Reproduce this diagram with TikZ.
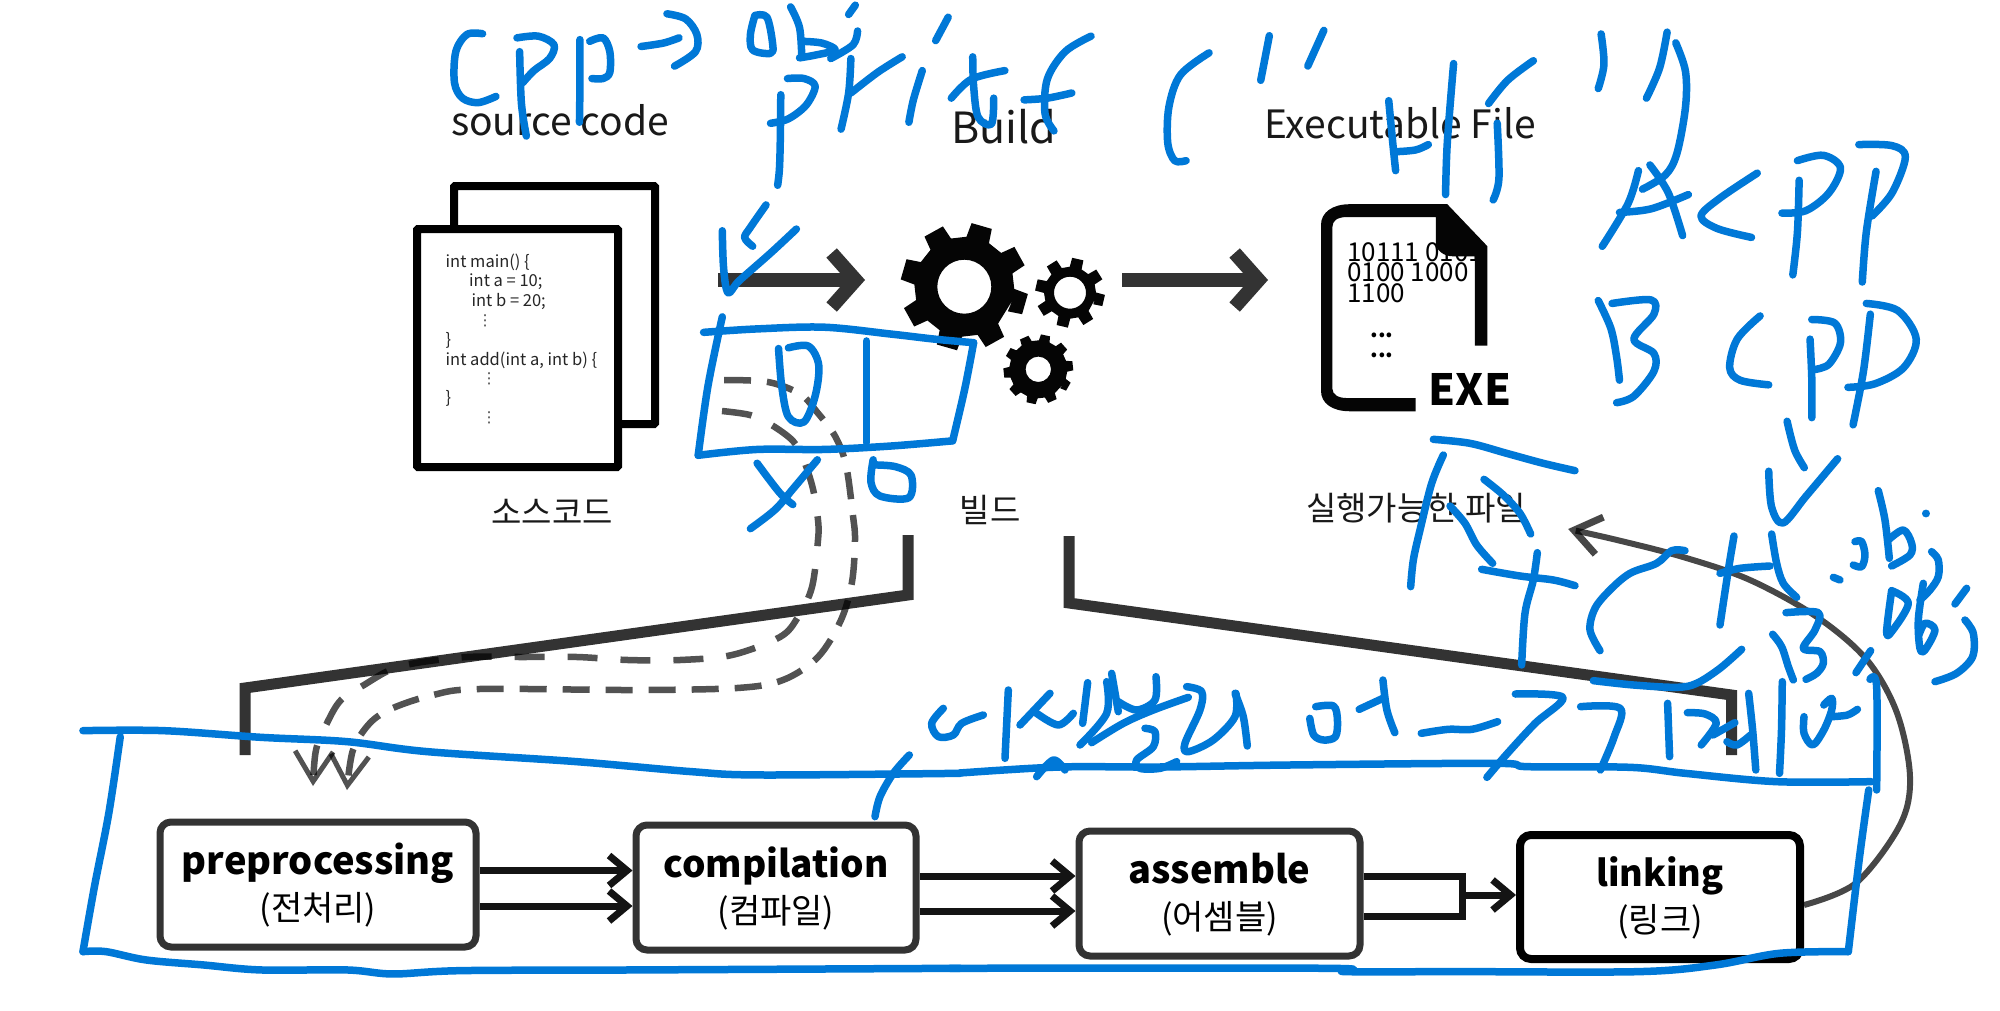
\documentclass[tikz,border=0pt]{standalone}
\usepackage{fontspec}
\usetikzlibrary{arrows.meta,calc}
\setmainfont{Noto Sans CJK KR}
\newfontfamily\dvfont{DejaVu Sans}
\definecolor{inkblue}{HTML}{0078D7}
\definecolor{dk}{HTML}{333333}
\tikzset{
  ink/.style={draw=inkblue,line width=7.5pt,line cap=round,line join=round},
  z1/.style={shift={(400pt,0pt)},x=.4464pt,y=-.3444pt},
  z2/.style={shift={(1100pt,0pt)},x=.574pt,y=-.357pt},
  z3/.style={shift={(60pt,-520pt)},x=.574pt,y=-.3333pt},
  z4/.style={shift={(950pt,-560pt)},x=.638pt,y=-.3333pt},
  z5/.style={shift={(1550pt,-460pt)},x=.3333pt,y=-.3333pt},
  z6/.style={shift={(860pt,-660pt)},x=.3333pt,y=-.3333pt},
  z7/.style={shift={(1380pt,-420pt)},x=.3333pt,y=-.3333pt},
  z8/.style={shift={(1290pt,-680pt)},x=.3954pt,y=-.3333pt},
  procbox/.style={draw=dk,line width=7pt,rounded corners=11pt,fill=white,align=center,inner sep=0pt,minimum height=125pt},
  doc/.style={draw=black,line width=8pt,rounded corners=1pt,fill=white,minimum width=201pt,minimum height=238pt,inner sep=0pt},
  codeline/.style={anchor=west,inner sep=0pt,font=\fontsize{16.5}{18}\selectfont,text=black!85},
  codedots/.style={inner sep=0pt,font=\dvfont\fontsize{15}{15}\selectfont,text=black!75},
  toplabel/.style={inner sep=0pt,font=\fontsize{39}{42}\selectfont,text=black!90},
  kolabel/.style={inner sep=0pt,font=\fontsize{33}{36}\selectfont,text=black!90},
  bigarrow/.style={draw=dk,line width=14pt,-{Straight Barb[length=24pt,width=54pt,line width=14pt]}},
  flowarrow/.style={draw=black!92,line width=7pt,-{Straight Barb[length=18pt,width=30pt,line width=7pt]}},
  bracket/.style={draw=dk,line width=11pt,miter limit=10},
  dashcurve/.style={draw=black,opacity=.68,line width=6.5pt,-{Straight Barb[length=30pt,width=38pt,line width=5pt]}},
  bintext/.style={anchor=north west,align=left,inner sep=0pt,font=\fontsize{26}{20.5}\selectfont,text=black},
}
\newcommand\boxlabel[3]{{\bfseries\fontsize{#3}{40}\selectfont\rule[-11pt]{0pt}{48pt}#1}\\{\fontsize{34}{40}\selectfont\rule[-12pt]{0pt}{46pt}#2}}
\newcommand\inkline[1]{\draw[ink] plot[smooth,tension=.55] coordinates {#1};}
\newcommand\gearshape[7]{%
  \begin{scope}[shift={(#1,#2)}]
    \pgfmathsetmacro\gstep{360/#3}
    \fill[black!98,even odd rule] (#7:#5)
      \foreach \k [evaluate=\k as \a using #7+\k*\gstep] in {1,...,#3} {
        -- ({\a-.3*\gstep}:#5) -- ({\a-.21*\gstep}:#4) -- ({\a+.21*\gstep}:#4) -- ({\a+.3*\gstep}:#5)
      } -- cycle (0,0) circle[radius=#6];
  \end{scope}}
\begin{document}
\begin{tikzpicture}[x=1pt,y=-1pt]
\useasboundingbox (0,0) rectangle (2000,1010);
\fill[white] (0,0) rectangle (2000,1010);

% top labels
\node[toplabel] (srcen) at (560,120) {source code};
\node[toplabel,font=\fontsize{43}{46}\selectfont] (builden) at (1004,127) {Build};
\node[toplabel] (exeen) at (1400,123) {Executable File};
\node[kolabel] (srcko) at (552,512) {소스코드};
\node[kolabel] (buildko) at (990,510) {빌드};
\node[kolabel] (exeko) at (1416,508) {실행가능한 파일};

% source documents
\node[doc] (back) at (554.5,305) {};
\node[doc] (front) at (517.5,348) {};
\node[codeline] (c1) at (445.5,262.4) {int main() \{};
\node[codeline] (c2) at (469,281.7) {int a = 10;};
\node[codeline] (c3) at (471.4,301.4) {int b = 20;};
\node[codedots] (c4) at (485,321) {⋮};
\node[codeline] (c5) at (445.5,340) {\}};
\node[codeline] (c6) at (445.5,360) {int add(int a, int b) \{};
\node[codedots] (c7) at (489,379) {⋮};
\node[codeline] (c8) at (445.5,398) {\}};
\node[codedots] (c9) at (489,418) {⋮};

% gears
\gearshape{964.3}{286.7}{8}{64}{50}{27}{16}
\gearshape{1070}{292.7}{8}{35}{26}{16}{13}
\gearshape{1038.3}{369.3}{10}{35}{29}{12.7}{30}

% executable file icon
\node[bintext] (b1) at (1347,242) {10111 0101\\0100 1000\\1100};
\node[inner sep=0pt,font=\bfseries\fontsize{22}{22}\selectfont] (b4) at (1382,335) {...};
\node[inner sep=0pt,font=\bfseries\fontsize{22}{22}\selectfont] (b5) at (1382,355) {...};
\begin{scope}[z2]
\fill[black!98] (550,1152) -- (435,1152) .. controls (405,1152) and (385,1130) .. (385,1095) -- (385,630) .. controls (385,595) and (405,572) .. (435,572) -- (605,572) -- (675,690) -- (675,968) -- (653,968) -- (653,718) -- (615,718) .. controls (598,718) and (585,700) .. (585,680) -- (585,608) -- (430,608) .. controls (412,608) and (405,620) .. (405,635) -- (405,1090) .. controls (405,1105) and (415,1115) .. (430,1115) -- (550,1115) -- cycle;
\end{scope}
\node[inner sep=0pt,font=\bfseries\fontsize{43}{45}\selectfont] (exetxt) at (1470,389) {EXE};

% big arrows
\coordinate (a1s) at (718,280);
\coordinate (a1e) at (865,280);
\coordinate (a2s) at (1122,280);
\coordinate (a2e) at (1268,280);
\draw[bigarrow] (a1s) -- (a1e);
\draw[bigarrow] (a2s) -- (a2e);

% brackets
\draw[bracket] (908,535) -- (908,595) -- (245,688) -- (245,755);
\draw[bracket] (1069,536) -- (1069,603) -- (1731.5,695) -- (1731.5,755);

% process boxes
\node[procbox,minimum width=316pt] (pre) at (318,884.5) {\boxlabel{preprocessing}{(전처리)}{38}};
\node[procbox,minimum width=280pt] (comp) at (776,887.5) {\boxlabel{compilation}{(컴파일)}{37}};
\node[procbox,minimum width=281pt] (asm) at (1219.5,893.5) {\boxlabel{assemble}{(어셈블)}{38}};
\node[procbox,minimum width=280pt,minimum height=124pt,draw=black,line width=8pt] (link) at (1660,897) {\boxlabel{linking}{(링크)}{36}};

% flow arrows
\coordinate (p1) at ([yshift=14pt]pre.east);
\coordinate (p2) at ([yshift=-21.5pt]pre.east);
\draw[flowarrow] (p1) -- (p1 -| comp.west);
\draw[flowarrow] (p2) -- (p2 -| comp.west);
\coordinate (q1) at ([yshift=11.5pt]comp.east);
\coordinate (q2) at ([yshift=-23.5pt]comp.east);
\draw[flowarrow] (q1) -- (q1 -| asm.west);
\draw[flowarrow] (q2) -- (q2 -| asm.west);
\coordinate (r1) at ([yshift=17pt]asm.east);
\coordinate (r2) at ([yshift=-23pt]asm.east);
\coordinate (rm) at (1462,895);
\draw[draw=black!92,line width=7pt] (r1) -- (r1 -| rm) -- (r2 -| rm) -- (r2);
\draw[flowarrow] (rm) -- (rm -| link.west);

% return curve
\draw[draw=black,opacity=.72,line width=6pt,-{Straight Barb[length=26pt,width=38pt,line width=7pt]}]
  plot[smooth,tension=.55] coordinates {($(link.east)+(0,8)$) (1856,883) (1900,825) (1910,777) (1897,713) (1867,660) (1817,617) (1750,580) (1683,557) (1617,540) ($(exeko.east)+(42,21)$)};

% dashed curves
\draw[dashcurve,dash pattern=on 27pt off 16pt] plot[smooth,tension=.55] coordinates {(724,380) (768,382) (800,394) (817,412) (835,436) (846,465) (853,516) (855,540) (852,582) (841,620) (818,657) (783,680) (737,688) (634,690) (479,689) (433,695) (393,708) (370,723) (353,750) (347,790)};
\draw[dashcurve,dash pattern=on 30pt off 23pt] plot[smooth,tension=.55] coordinates {(722,411) (750,415) (770,424) (793,441) (804,461) (813,489) (818,520) (818,540) (812,587) (798,617) (780,637) (732,655) (680,660) (628,660) (577,657) (522,657) (467,657) (416,663) (390,670) (364,685) (341,700) (327,723) (316,750) (313,786)};

% handwriting
\begin{scope}[z1]
\inkline{(185,98) (150,100) (125,150) (122,240) (140,285) (175,298) (215,280)}
\inkline{(262,110) (310,105) (345,130) (335,170) (300,205) (275,240)}
\inkline{(268,150) (272,300) (283,395)}
\inkline{(403,115) (403,250) (402,355)}
\inkline{(425,120) (455,110) (470,150) (470,210) (455,228) (430,228)}
\inkline{(540,135) (590,125) (625,110)}
\inkline{(598,40) (640,55) (665,100) (662,150) (615,192)}
\inkline{(795,45) (785,100) (790,145) (830,155) (835,130) (822,50) (795,45)}
\inkline{(875,20) (895,80) (900,165)}
\inkline{(900,120) (945,125) (975,145) (930,160) (895,168)}
\inkline{(1020,15) (1005,42)}
\inkline{(1025,90) (1015,130) (965,170)}
\inkline{(853,275) (852,400) (850,490) (846,538)}
\inkline{(868,228) (905,228) (930,250) (910,305) (870,345) (830,358)}
\inkline{(1010,170) (1005,270) (988,375)}
\inkline{(1010,270) (1070,210) (1125,165)}
\inkline{(1170,205) (1150,290) (1140,355)}
\inkline{(1228,50) (1200,118)}
\inkline{(1235,285) (1280,230) (1355,205)}
\inkline{(1283,165) (1285,250) (1295,340) (1325,360) (1330,285)}
\inkline{(1548,105) (1490,150) (1450,230) (1445,330) (1465,380)}
\inkline{(1398,290) (1450,285) (1505,270)}
\inkline{(820,595) (785,660) (772,690) (790,715)}
\inkline{(722,670) (725,780) (735,850) (760,815) (830,735) (888,665)}
\inkline{(680,965) (800,955) (950,950) (1100,970) (1200,985) (1285,995)}
\inkline{(1285,995) (1265,1130) (1238,1280)}
\inkline{(1238,1280) (1100,1295) (950,1305) (800,1305) (668,1322)}
\inkline{(668,1322) (690,1120) (722,920)}
\inkline{(848,1012) (855,1120) (870,1210) (905,1225) (930,1150) (938,1060) (915,1005) (870,1010)}
\inkline{(1045,990) (1045,1285)}
\inkline{(800,1345) (850,1430) (880,1465)}
\inkline{(935,1335) (880,1420) (840,1480) (785,1535)}
\inkline{(1060,1335) (1055,1400) (1075,1440) (1140,1445) (1145,1380) (1110,1355) (1065,1350)}
\end{scope}
\begin{scope}[z2]
\inkline{(190,148) (140,210) (120,300) (118,400) (130,450) (150,450)}
\inkline{(295,100) (280,225)}
\inkline{(390,85) (362,185)}
\inkline{(503,282) (510,400) (515,478)}
\inkline{(515,425) (550,420) (572,405)}
\inkline{(616,178) (605,400) (602,545)}
\inkline{(755,170) (710,225) (677,290)}
\inkline{(692,345) (695,500) (685,560)}
\inkline{(873,95) (878,180) (868,248)}
\inkline{(988,90) (975,190) (952,275)}
\inkline{(1003,120) (1020,200) (1020,300) (1005,430) (985,490) (945,530)}
\inkline{(938,478) (920,570) (875,690)}
\inkline{(958,462) (990,540) (1015,660)}
\inkline{(905,595) (960,585) (1025,545)}
\inkline{(1145,485) (1080,555) (1047,605) (1075,640) (1135,665)}
\inkline{(1218,505) (1215,650) (1207,770)}
\inkline{(1215,450) (1260,435) (1290,470) (1270,540) (1230,590) (1188,597)}
\inkline{(1352,480) (1335,650) (1328,790)}
\inkline{(1322,405) (1380,408) (1403,440) (1380,540) (1345,605)}
\inkline{(868,842) (890,920) (900,1000) (905,1065)}
\inkline{(892,850) (960,840) (965,880) (930,950) (965,990) (965,1040) (930,1110) (900,1128)}
\inkline{(1150,885) (1110,950) (1097,1030) (1115,1065) (1165,1078)}
\inkline{(1237,950) (1240,1060) (1240,1170)}
\inkline{(1240,895) (1280,905) (1290,960) (1270,1020) (1245,1035)}
\inkline{(1342,880) (1330,1040) (1312,1190)}
\inkline{(1335,850) (1390,870) (1422,950) (1400,1030) (1350,1075) (1303,1085)}
\inkline{(1197,1180) (1210,1260) (1227,1310)}
\inkline{(1165,1320) (1170,1420) (1190,1465) (1230,1390) (1285,1285)}
\end{scope}
\begin{scope}[z7]
\inkline{(160,58) (270,70) (380,100) (490,130) (585,152)}
\inkline{(190,105) (155,190) (120,330) (100,420) (92,500)}
\inkline{(312,178) (370,225) (420,280) (452,342)}
\inkline{(210,258) (255,310) (290,375) (338,430)}
\inkline{(305,448) (420,468) (520,480) (585,497)}
\inkline{(472,398) (460,480) (435,580) (425,735)}
\end{scope}
\begin{scope}[z5]
\inkline{(405,272) (365,272) (320,310) (240,340) (180,390) (135,445) (120,510) (150,572)}
\inkline{(552,228) (535,330) (510,495)}
\inkline{(510,340) (570,325) (660,318)}
\inkline{(665,222) (680,310) (700,370) (740,412)}
\inkline{(850,352) (870,360)}
\inkline{(915,245) (935,245) (945,285) (935,320) (910,315)}
\inkline{(985,92) (1005,180) (1018,295)}
\inkline{(1015,240) (1060,210) (1085,250) (1080,285) (1025,318)}
\inkline{(1128,160) (1128,161)}
\inkline{(1145,275) (1165,300) (1165,350) (1140,390) (1110,420)}
\inkline{(668,523) (695,560) (715,620) (730,660)}
\inkline{(708,458) (805,458) (795,510) (760,565) (810,575) (820,610) (800,640) (768,658)}
\inkline{(962,572) (918,638)}
\inkline{(1025,392) (1010,515) (1025,515) (1075,430) (1025,392)}
\inkline{(1120,370) (1105,480) (1110,565) (1125,570) (1155,510) (1125,490) (1105,530)}
\inkline{(1250,385) (1215,432)}
\inkline{(1245,480) (1270,520) (1268,590) (1220,640) (1155,665)}
\inkline{(130,662) (250,675) (380,682) (440,670) (510,625) (575,568)}
\inkline{(960,658) (980,680) (980,990)}
\end{scope}
\begin{scope}[z6]
\inkline{(148,285) (100,340) (60,410) (45,470)}
\inkline{(250,145) (215,190) (235,230) (280,225) (305,190) (370,165)}
\inkline{(445,90) (435,295)}
\inkline{(570,100) (480,195)}
\inkline{(530,160) (595,195) (640,160)}
\inkline{(683,68) (668,190)}
\inkline{(530,350) (580,300) (615,330)}
\inkline{(660,255) (740,160) (740,65)}
\inkline{(755,40) (775,155)}
\inkline{(775,125) (830,150) (885,120) (888,50)}
\inkline{(695,248) (790,190) (880,150) (985,112)}
\inkline{(855,205) (885,215) (880,260) (830,300) (840,325) (900,325) (950,305)}
\inkline{(980,80) (1025,95) (1020,150) (975,250) (985,275) (1060,240) (1125,170) (1128,100)}
\inkline{(1125,100) (1150,170) (1162,258)}
\end{scope}
\begin{scope}[z8]
\inkline{(65,80) (110,78) (120,120) (115,170) (85,180) (60,165) (50,115)}
\inkline{(175,88) (235,55)}
\inkline{(235,0) (245,90) (265,158)}
\inkline{(332,160) (400,148) (460,148) (525,125)}
\inkline{(570,42) (690,52) (620,130) (550,220) (498,292)}
\inkline{(735,80) (835,85) (820,170) (785,270)}
\inkline{(955,70) (960,230)}
\inkline{(1005,98) (1050,102) (1078,130) (1040,195)}
\inkline{(1125,128) (1070,165)}
\inkline{(1105,185) (1130,195) (1165,165)}
\inkline{(1160,40) (1170,150) (1178,270)}
\inkline{(1245,5) (1243,150) (1238,280)}
\inkline{(1300,110) (1300,160) (1322,195) (1350,150) (1370,90) (1370,55) (1350,75)}
\inkline{(1370,110) (1410,105) (1435,88)}
\end{scope}
% box outline
\begin{scope}[z3]
\inkline{(40,632) (180,632) (350,652) (500,665) (640,695) (900,725) (1100,755) (1220,765) (1568,760)}
\inkline{(105,650) (85,880) (60,1100) (40,1295)}
\inkline{(40,1295) (80,1295) (150,1320) (250,1335) (350,1350) (500,1350) (580,1362) (700,1352) (1000,1350) (1568,1345)}
\end{scope}
\begin{scope}[z8]
\inkline{(-835,279) (-582,261) (-329,261) (0,255) (520,250) (600,260) (860,262) (1000,280) (1230,305) (1470,305)}
\end{scope}
\begin{scope}[z4]
\inkline{(0,1225) (590,1225) (620,1235) (800,1235) (1080,1235) (1200,1215) (1300,1180) (1408,1175)}
\inkline{(1440,690) (1425,900) (1408,1175)}
\end{scope}
\end{tikzpicture}
\end{document}
